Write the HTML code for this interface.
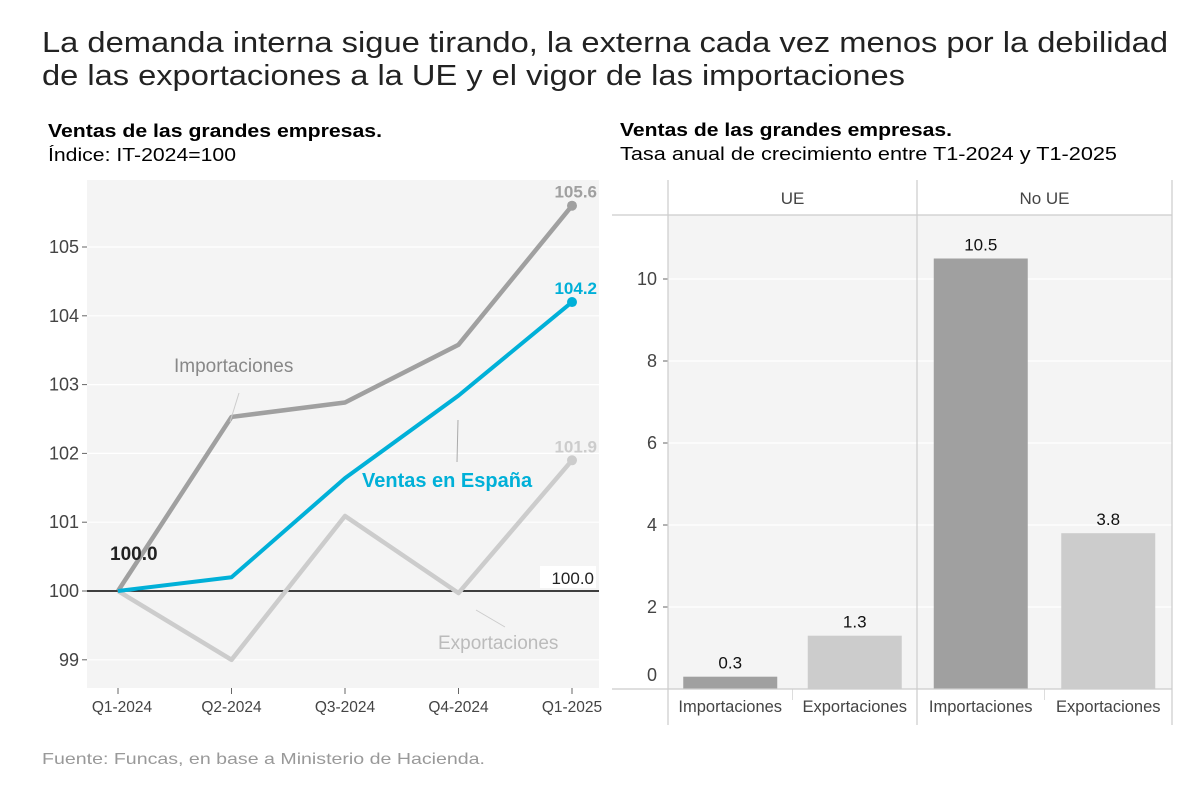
<!DOCTYPE html>
<html><head><meta charset="utf-8">
<style>
html,body{margin:0;padding:0;background:#fff;}
svg{display:block;font-family:"Liberation Sans",Arial,sans-serif;}
</style></head>
<body>
<svg id="c" width="1200" height="785" viewBox="0 0 1200 785">
  <text x="42" y="52" font-size="29" fill="#222" textLength="1126" lengthAdjust="spacingAndGlyphs">La demanda interna sigue tirando, la externa cada vez menos por la debilidad</text>
  <text x="42" y="85" font-size="29" fill="#222" textLength="863" lengthAdjust="spacingAndGlyphs">de las exportaciones a la UE y el vigor de las importaciones</text>
  <text x="48" y="137" font-size="18" font-weight="bold" fill="#000" textLength="334" lengthAdjust="spacingAndGlyphs">Ventas de las grandes empresas.</text>
  <text x="48" y="161" font-size="18" fill="#000" textLength="188" lengthAdjust="spacingAndGlyphs">Índice: IT-2024=100</text>
  <text x="620" y="136" font-size="18" font-weight="bold" fill="#000" textLength="332" lengthAdjust="spacingAndGlyphs">Ventas de las grandes empresas.</text>
  <text x="620" y="160" font-size="18" fill="#000" textLength="497" lengthAdjust="spacingAndGlyphs">Tasa anual de crecimiento entre T1-2024 y T1-2025</text>
  <text x="42" y="764" font-size="16" fill="#999" textLength="443" lengthAdjust="spacingAndGlyphs">Fuente: Funcas, en base a Ministerio de Hacienda.</text>
  <g id="left"></g>
  <g id="right"></g>
</svg>
<script>
const quarters = ["Q1-2024","Q2-2024","Q3-2024","Q4-2024","Q1-2025"];
const importaciones = [100, 102.53, 102.74, 103.58, 105.6];
const ventasEspana = [100, 100.2, 101.64, 102.84, 104.2];
const exportaciones = [100, 99.0, 101.09, 99.97, 101.9];
const lineTicks = [99,100,101,102,103,104,105];

const barGroups = ["UE","No UE"];
const barCategories = ["Importaciones","Exportaciones"];
const barValuesUE = [0.3, 1.3];
const barValuesNoUE = [10.5, 3.8];
const barTicks = [0,2,4,6,8,10];

const NS="http://www.w3.org/2000/svg";
function mk(parent,tag,attrs,text){const e=document.createElementNS(NS,tag);for(const k in attrs)e.setAttribute(k,attrs[k]);if(text!==undefined)e.textContent=text;parent.appendChild(e);return e;}

// ---- Line chart ----
const L=document.getElementById('left');
const lx=i=>118+i*113.5;
const ly=v=>591-(v-100)*68.8;
let e=mk(L,'rect',{x:87,y:180,width:512,height:508,fill:'#f4f4f4'});

lineTicks.forEach(t=>{
  let g=mk(L,'line',{x1:87,x2:599,y1:ly(t),y2:ly(t),stroke:'#fff','stroke-width':1.2});
  
  let tk=mk(L,'line',{x1:82,x2:87,y1:ly(t),y2:ly(t),stroke:'#666'});
  
  let tl=mk(L,'text',{x:79,y:ly(t)+6,'font-size':18,fill:'#444','text-anchor':'end'},String(t));
  
});
quarters.forEach((q,i)=>{
  let tk=mk(L,'line',{x1:lx(i),x2:lx(i),y1:688,y2:694,stroke:'#666'});
  
  let tl=mk(L,'text',{x:lx(i)+(i===0?4:0),y:712,'font-size':15.5,fill:'#444','text-anchor':'middle'},q);
  
});
let base=mk(L,'line',{x1:87,x2:599,y1:ly(100),y2:ly(100),stroke:'#000','stroke-width':1.5});

let bl=mk(L,'rect',{x:540,y:566,width:56,height:22,fill:'#fff'});

let blt=mk(L,'text',{x:594,y:584,'font-size':17,fill:'#222','text-anchor':'end'},'100.0');


function series(vals,color,name,w){
  const pts=vals.map((v,i)=>lx(i)+','+ly(v)).join(' ');
  let p=mk(L,'polyline',{points:pts,fill:'none',stroke:color,'stroke-width':w,'stroke-linejoin':'round'});
  
  let c=mk(L,'circle',{cx:lx(vals.length-1),cy:ly(vals[vals.length-1]),r:5,fill:color});
  
  let t=mk(L,'text',{x:597,y:ly(vals[vals.length-1])-8,'font-size':17,'font-weight':'bold',fill:color,'text-anchor':'end'},vals[vals.length-1].toFixed(1));
  
}
series(exportaciones,'#cccccc','exportaciones',4.5);
series(importaciones,'#a0a0a0','importaciones',4.5);
series(ventasEspana,'#00b0d8','ventas-espana',4);

let a1=mk(L,'line',{x1:239,y1:393,x2:230,y2:422,stroke:'#ccc','stroke-width':1});

let t1=mk(L,'text',{x:174,y:372,'font-size':19,fill:'#888'},'Importaciones');

let a2=mk(L,'line',{x1:458,y1:420,x2:457,y2:462,stroke:'#aaa','stroke-width':1});

let t2=mk(L,'text',{x:362,y:487,'font-size':20,'font-weight':'bold',fill:'#00b0d8'},'Ventas en España');

let a3=mk(L,'line',{x1:476,y1:610,x2:505,y2:627,stroke:'#ccc','stroke-width':1});

let t3=mk(L,'text',{x:438,y:649,'font-size':19,fill:'#bbb'},'Exportaciones');

let t4=mk(L,'text',{x:110,y:560,'font-size':19,'font-weight':'bold',fill:'#222'},'100.0');


// ---- Bar chart ----
const R=document.getElementById('right');
const by=v=>689-v*41;
const panels=[{x0:668,x1:917,vals:barValuesUE},{x0:917,x1:1172,vals:barValuesNoUE}];
let rb=mk(R,'rect',{x:668,y:215,width:504,height:474,fill:'#f4f4f4'});

barTicks.forEach(t=>{
  if(t>0){let g=mk(R,'line',{x1:668,x2:1172,y1:by(t),y2:by(t),stroke:'#fff','stroke-width':1.2});
  }
  let tk=mk(R,'line',{x1:663,x2:668,y1:by(t),y2:by(t),stroke:'#666'});
  
  let tl=mk(R,'text',{x:657,y:(t===0?by(t)-8:by(t)+6),'font-size':18,fill:'#444','text-anchor':'end'},String(t));
  
});
const barColors=['#a0a0a0','#cccccc'];
panels.forEach((p,gi)=>{
  const w=p.x1-p.x0;
  let h=mk(R,'text',{x:(p.x0+p.x1)/2,y:204,'font-size':17,fill:'#444','text-anchor':'middle'},barGroups[gi]);
  
  p.vals.forEach((v,ci)=>{
    const cx=p.x0+w*(ci*2+1)/4;
    const bw=94;
    let r=mk(R,'rect',{x:cx-bw/2,y:by(v),width:bw,height:689-by(v),fill:barColors[ci]});
    
    let vl=mk(R,'text',{x:cx,y:by(v)-8,'font-size':17,fill:'#111','text-anchor':'middle'},v.toFixed(1));
    
    let cl=mk(R,'text',{x:cx,y:712,'font-size':16.5,fill:'#444','text-anchor':'middle'},barCategories[ci]);
    
  });
  let d=mk(R,'line',{x1:p.x0+w/2,x2:p.x0+w/2,y1:689,y2:700,stroke:'#ddd'});
  
});
[668,917,1172].forEach(x=>{
  let v=mk(R,'line',{x1:x,x2:x,y1:180,y2:725,stroke:'#ccc','stroke-width':1.2});
  
});
let ht=mk(R,'line',{x1:612,x2:1172,y1:215,y2:215,stroke:'#ccc','stroke-width':1.2});

let hb=mk(R,'line',{x1:612,x2:1172,y1:689,y2:689,stroke:'#ccc','stroke-width':1.2});

</script>
</body></html>
